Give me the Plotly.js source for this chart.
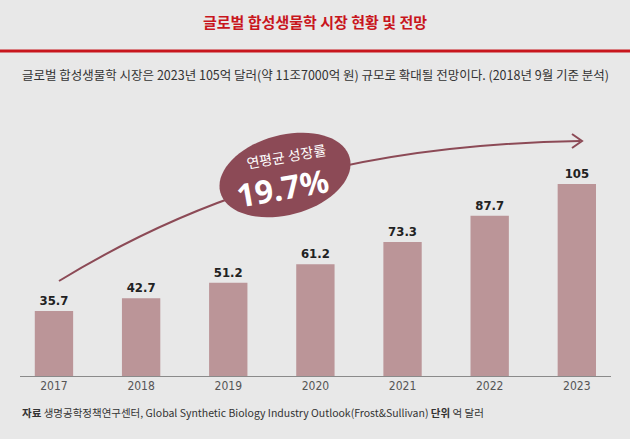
<!DOCTYPE html>
<html><head><meta charset="utf-8">
<script src="https://cdn.plot.ly/plotly-3.0.1.min.js"></script>
<style>html,body{margin:0;padding:0;background:#e8e8e8;}</style>
</head><body>
<div id="chart" style="width:630px;height:439px;"></div>
<script>
const years = ['2017','2018','2019','2020','2021','2022','2023'];
const values = [35.7, 42.7, 51.2, 61.2, 73.3, 87.7, 105];
const valueLabels = ['35.7','42.7','51.2','61.2','73.3','87.7','105'];
const titleText = '글로벌 합성생물학 시장 현황 및 전망';
const subtitleText = '글로벌 합성생물학 시장은 2023년 105억 달러(약 11조7000억 원) 규모로 확대될 전망이다. (2018년 9월 기준 분석)';
const sourceText = '<b>자료</b> 생명공학정책연구센터, Global Synthetic Biology Industry Outlook(Frost&Sullivan) <b>단위</b> 억 달러';
const cagrLabel = '연평균 성장률';
const cagrValue = '19.7%';

const KR = '"Noto Sans CJK KR", "Noto Sans", sans-serif';
const NARROW = '"Liberation Sans Narrow", "DejaVu Sans Condensed", "Roboto", sans-serif';
const W = 630, H = 439;
const xi = years.map((_, i) => i);

// rotated ellipse path (decoration)
function ellipsePath(cx, cy, a, b, deg) {
  const t = deg * Math.PI / 180;
  let p = '';
  for (let k = 0; k <= 72; k++) {
    const u = k / 72 * 2 * Math.PI;
    const x = cx + a * Math.cos(u) * Math.cos(t) - b * Math.sin(u) * Math.sin(t);
    const y = cy + a * Math.cos(u) * Math.sin(t) + b * Math.sin(u) * Math.cos(t);
    p += (k === 0 ? 'M' : 'L') + x.toFixed(1) + ',' + y.toFixed(1);
  }
  return p + 'Z';
}

const data = [{
  type: 'bar', x: xi, y: values,
  marker: {color: '#bb9598'}, width: 0.44,
  text: valueLabels, textposition: 'outside', cliponaxis: false,
  textfont: {family: NARROW, size: 13, color: '#222'},
  texttemplate: '<b>%{text}</b>',
  hoverinfo: 'none'
}, {
  type: 'scatter', x: [0], y: [0], xaxis: 'x2', yaxis: 'y2', mode: 'none', hoverinfo: 'none', showlegend: false
}];

const layout = {
  width: W, height: H,
  margin: {l: 0, r: 0, t: 0, b: 0},
  paper_bgcolor: '#e8e8e8', plot_bgcolor: 'rgba(0,0,0,0)',
  showlegend: false,
  xaxis: {
    domain: [10.4 / W, 620.4 / W], range: [-0.5, 6.5],
    tickvals: xi, ticktext: years, showgrid: false, zeroline: false,
    showline: false, ticks: '',
    tickfont: {family: NARROW, size: 12, color: '#555'}
  },
  yaxis: {
    domain: [(H - 376.5) / H, (H - 120) / H], range: [0, 139.9],
    visible: false, showgrid: false, zeroline: false
  },
  xaxis2: {domain: [0, 1], range: [0, W], visible: false, anchor: 'y2', showgrid: false, zeroline: false},
  yaxis2: {domain: [0, 1], range: [H, 0], visible: false, anchor: 'x2', showgrid: false, zeroline: false},
  shapes: [
    {type: 'line', xref: 'x2', yref: 'y2', x0: 0, x1: W, y0: 51, y1: 51, line: {color: '#c8161d', width: 3}},
    {type: 'line', xref: 'x2', yref: 'y2', x0: 20, x1: 611, y0: 376.5, y1: 376.5, line: {color: '#8a8a8a', width: 1}},
    {type: 'path', xref: 'x2', yref: 'y2', path: 'M59,281 C200,195 350,145 580,141', line: {color: '#8c4a56', width: 2}},
    {type: 'path', xref: 'x2', yref: 'y2', path: 'M572,134 L582,141 L572,148', line: {color: '#8c4a56', width: 2}},
    {type: 'path', xref: 'x2', yref: 'y2', path: ellipsePath(285, 175, 67, 40, -15), fillcolor: '#8c4a56', line: {width: 0}}
  ],
  annotations: [
    {xref: 'x2', yref: 'y2', x: 315, y: 21, text: '<b>' + titleText + '</b>', showarrow: false,
     font: {family: KR, size: 15, color: '#c8161d'}},
    {xref: 'x2', yref: 'y2', x: 315, y: 74, text: subtitleText, showarrow: false,
     font: {family: KR, size: 12.5, color: '#333'}},
    {xref: 'x2', yref: 'y2', x: 20, y: 412, xanchor: 'left', text: sourceText, showarrow: false,
     font: {family: KR, size: 10.5, color: '#333'}},
    {xref: 'x2', yref: 'y2', x: 286, y: 156, text: cagrLabel, showarrow: false, textangle: -10,
     font: {family: KR, size: 14, color: '#fff'}},
    {xref: 'x2', yref: 'y2', x: 282, y: 187, text: '<b>' + cagrValue + '</b>', showarrow: false, textangle: -10,
     font: {family: '"Noto Sans", sans-serif', size: 32, color: '#fff'}}
  ]
};
Plotly.newPlot('chart', data, layout, {displayModeBar: false, staticPlot: true});
</script>
</body></html>
